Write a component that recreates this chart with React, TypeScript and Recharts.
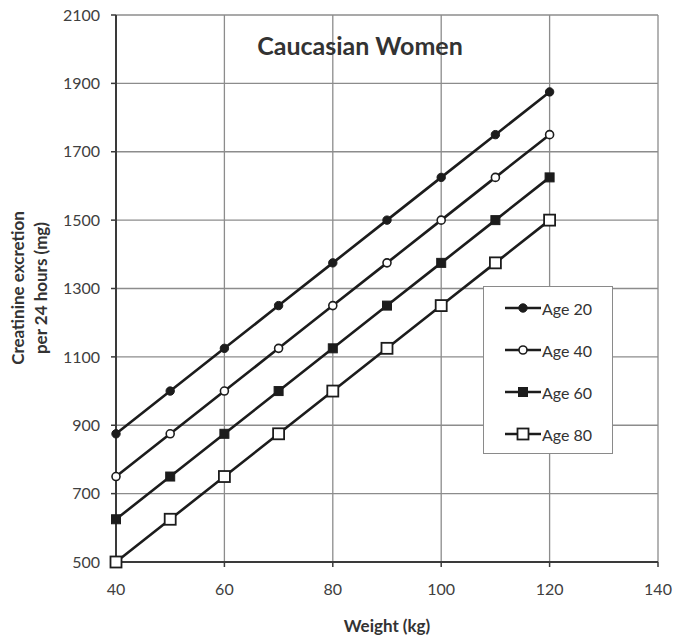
import React from 'react';
import { LineChart, Line, XAxis, YAxis, CartesianGrid } from 'recharts';

const weights = [40, 50, 60, 70, 80, 90, 100, 110, 120];
const age20 = [875, 1000, 1125, 1250, 1375, 1500, 1625, 1750, 1875];
const age40 = [750, 875, 1000, 1125, 1250, 1375, 1500, 1625, 1750];
const age60 = [625, 750, 875, 1000, 1125, 1250, 1375, 1500, 1625];
const age80 = [500, 625, 750, 875, 1000, 1125, 1250, 1375, 1500];
const xTicks = [40, 60, 80, 100, 120, 140];
const yTicks = [500, 700, 900, 1100, 1300, 1500, 1700, 1900, 2100];
const seriesNames = ['Age 20', 'Age 40', 'Age 60', 'Age 80'];

const data = weights.map((w, i) => ({
  w,
  a20: age20[i],
  a40: age40[i],
  a60: age60[i],
  a80: age80[i],
}));

const INK = '#1c1c1c';
const FONT = 'Lato, "Open Sans", sans-serif';

type Shape = 'fcircle' | 'ocircle' | 'fsquare' | 'osquare';

const Marker = ({ shape, cx, cy }: { shape: Shape; cx: number; cy: number }) => {
  if (shape === 'fcircle') return <circle cx={cx} cy={cy} r={4.2} fill={INK} stroke={INK} strokeWidth={1} />;
  if (shape === 'ocircle') return <circle cx={cx} cy={cy} r={4} fill="#fff" stroke={INK} strokeWidth={1.6} />;
  if (shape === 'fsquare') return <rect x={cx - 4.5} y={cy - 4.5} width={9} height={9} fill={INK} stroke={INK} strokeWidth={1} />;
  return <rect x={cx - 5.5} y={cy - 5.5} width={11} height={11} fill="#fff" stroke={INK} strokeWidth={1.8} />;
};

const makeDot = (shape: Shape) => (props: any) => {
  const { cx, cy, index } = props;
  if (cx == null || cy == null) return <g key={index} />;
  return <Marker key={`${shape}-${index}`} shape={shape} cx={cx} cy={cy} />;
};

const shapes: Shape[] = ['fcircle', 'ocircle', 'fsquare', 'osquare'];

const LegendBox = () => (
  <div
    style={{
      position: 'absolute',
      left: 483,
      top: 286,
      width: 130,
      height: 168,
      border: '1.5px solid #8a8a8a',
      background: '#fff',
      boxSizing: 'border-box',
    }}
  >
    {seriesNames.map((name, i) => (
      <div key={name} style={{ display: 'flex', alignItems: 'center', height: 42, paddingLeft: 20 }}>
        <svg width={38} height={14}>
          <line x1={1} y1={7} x2={37} y2={7} stroke={INK} strokeWidth={2.5} />
          <Marker shape={shapes[i]} cx={19} cy={7} />
        </svg>
        <span style={{ fontFamily: FONT, fontSize: 16, color: '#333' }}>{name}</span>
      </div>
    ))}
  </div>
);

export default function App() {
  return (
    <div style={{ position: 'absolute', left: 0, top: 0, width: 677, height: 638, background: '#fff' }}>
      <LineChart
        width={677}
        height={638}
        data={data}
        margin={{ top: 15, right: 19, bottom: 0, left: 0 }}
      >
        <CartesianGrid stroke="#8c8c8c" strokeWidth={1.3} />
        <XAxis
          dataKey="w"
          type="number"
          domain={[40, 140]}
          ticks={xTicks}
          height={76}
          tick={{ fill: '#404040', fontSize: 16, fontFamily: FONT }}
          tickSize={5}
          tickMargin={17}
          axisLine={{ stroke: '#3a3a3a', strokeWidth: 2 }}
          tickLine={{ stroke: '#3a3a3a', strokeWidth: 1.5 }}
        />
        <YAxis
          type="number"
          domain={[500, 2100]}
          ticks={yTicks}
          width={116}
          tick={{ fill: '#404040', fontSize: 16, fontFamily: FONT }}
          tickSize={5}
          tickMargin={11}
          axisLine={{ stroke: '#3a3a3a', strokeWidth: 2 }}
          tickLine={{ stroke: '#3a3a3a', strokeWidth: 1.5 }}
          interval={0}
        />
        <Line dataKey="a20" name="Age 20" stroke={INK} strokeWidth={2.6} dot={makeDot('fcircle')} isAnimationActive={false} />
        <Line dataKey="a40" name="Age 40" stroke={INK} strokeWidth={2.6} dot={makeDot('ocircle')} isAnimationActive={false} />
        <Line dataKey="a60" name="Age 60" stroke={INK} strokeWidth={2.6} dot={makeDot('fsquare')} isAnimationActive={false} />
        <Line dataKey="a80" name="Age 80" stroke={INK} strokeWidth={2.6} dot={makeDot('osquare')} isAnimationActive={false} />
      </LineChart>
      <LegendBox />
      <div
        style={{
          position: 'absolute',
          left: 160,
          width: 400,
          top: 30,
          textAlign: 'center',
          fontFamily: FONT,
          fontWeight: 'bold',
          fontSize: 25,
          color: '#333',
        }}
      >
        Caucasian Women
      </div>
      <div
        style={{
          position: 'absolute',
          left: 287,
          width: 200,
          top: 615,
          textAlign: 'center',
          fontFamily: FONT,
          fontWeight: 'bold',
          fontSize: 17,
          color: '#333',
        }}
      >
        Weight (kg)
      </div>
      <div
        style={{
          position: 'absolute',
          left: 29,
          top: 288,
          width: 0,
          height: 0,
        }}
      >
        <div
          style={{
            position: 'absolute',
            left: -150,
            top: -23,
            width: 300,
            textAlign: 'center',
            transform: 'rotate(-90deg)',
            fontFamily: FONT,
            fontWeight: 'bold',
            fontSize: 17,
            lineHeight: '23px',
            color: '#333',
          }}
        >
          Creatinine excretion
          <br />
          per 24 hours (mg)
        </div>
      </div>
    </div>
  );
}
